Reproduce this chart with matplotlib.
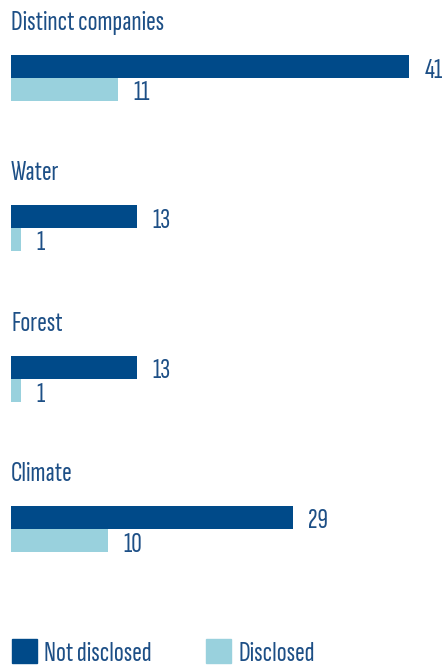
import matplotlib
matplotlib.use("Agg")
import matplotlib.pyplot as plt
from matplotlib.patches import Rectangle

categories = ["Distinct companies", "Water", "Forest", "Climate"]
not_disclosed = [41, 13, 13, 29]
disclosed = [11, 1, 1, 10]
series_names = ["Not disclosed", "Disclosed"]

DARK = "#004a89"
LIGHT = "#99d1dd"
TEXT = "#1d4f86"
FONT = ["Sofia Sans Extra Condensed", "DejaVu Sans"]
FS = 21

fig = plt.figure(figsize=(4.48, 6.72), dpi=100)
ax = fig.add_axes([0, 0, 1, 1])
scale = 9.71  # px per unit
ax.set_xlim(-11 / scale, (448 - 11) / scale)
ax.set_ylim(672, 0)
ax.axis("off")

group_top = [55, 205, 356, 506]
bh = 23
gap = 1.6
for i, cat in enumerate(categories):
    t = group_top[i]
    ax.text(0, t - 25, cat, ha="left", va="baseline", fontsize=FS, color=TEXT, family=FONT)
    ax.barh(t + bh / 2, not_disclosed[i], height=bh, color=DARK, left=0)
    ax.barh(t + bh * 1.5, disclosed[i], height=bh, color=LIGHT, left=0)
    ax.text(not_disclosed[i] + gap, t + bh - 0.5, str(not_disclosed[i]), ha="left", va="baseline",
            fontsize=FS, color=TEXT, family=FONT)
    ax.text(disclosed[i] + gap, t + 2 * bh - 0.5, str(disclosed[i]), ha="left", va="baseline",
            fontsize=FS, color=TEXT, family=FONT)

# legend
handles = [Rectangle((0, 0), 1, 1, color=DARK), Rectangle((0, 0), 1, 1, color=LIGHT)]
leg = fig.legend(handles, series_names, loc="lower left", bbox_to_anchor=(6 / 448, 0.0), ncol=2,
                 frameon=False, handlelength=0.86, handleheight=0.86, handletextpad=0.25,
                 columnspacing=1.85, borderaxespad=0.2, borderpad=0.0,
                 prop={"family": FONT, "size": FS})
for t in leg.get_texts():
    t.set_color(TEXT)

fig.savefig("out.png", dpi=100)
